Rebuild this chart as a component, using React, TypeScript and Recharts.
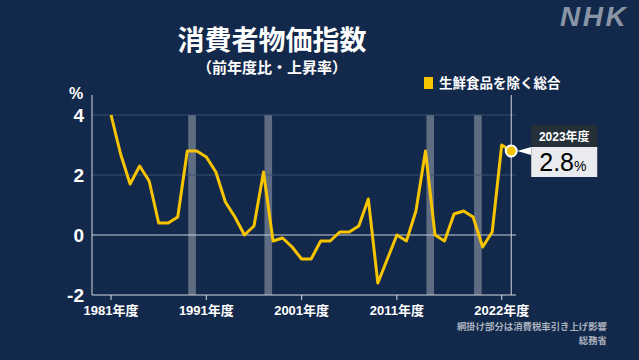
import React from "react";
import {
  LineChart,
  Line,
  XAxis,
  YAxis,
  ReferenceArea,
  ReferenceLine,
  ReferenceDot,
} from "recharts";

// fiscal years and core CPI change (%), excluding fresh food
const years = [
  1981, 1982, 1983, 1984, 1985, 1986, 1987, 1988, 1989, 1990, 1991, 1992, 1993, 1994, 1995,
  1996, 1997, 1998, 1999, 2000, 2001, 2002, 2003, 2004, 2005, 2006, 2007, 2008, 2009, 2010,
  2011, 2012, 2013, 2014, 2015, 2016, 2017, 2018, 2019, 2020, 2021, 2022, 2023,
];
const values = [
  4.0, 2.7, 1.7, 2.3, 1.8, 0.4, 0.4, 0.6, 2.8, 2.8, 2.6, 2.1, 1.1, 0.6, 0.0,
  0.3, 2.1, -0.2, -0.1, -0.4, -0.8, -0.8, -0.2, -0.2, 0.1, 0.1, 0.3, 1.2, -1.6, -0.8,
  0.0, -0.2, 0.8, 2.8, 0.0, -0.2, 0.7, 0.8, 0.6, -0.4, 0.1, 3.0, 2.8,
];
const taxYears = [1989, 1997, 2014, 2019];
const xTicks = [1981, 1991, 2001, 2011, 2022];
const yTicks = [-2, 0, 2, 4];

const data = years.map((year, i) => ({ year, v: values[i] }));

const BG = "#13294b";
const YELLOW = "#f7c400";
const FONT = "'Noto Sans CJK JP', 'Noto Sans', sans-serif";
const NUM_FONT = "'Liberation Sans', 'Noto Sans CJK JP', sans-serif";

const LastPoint = (props: any) => {
  const { cx, cy } = props;
  const bx = cx + 20;
  return (
    <g>
      <circle cx={cx} cy={cy} r={5.5} fill={YELLOW} stroke="#ffffff" strokeWidth={2} />
      <polygon points={`${cx + 6},${cy} ${bx},${cy - 4} ${bx},${cy + 4}`} fill="#ffffff" />
      <rect x={bx} y={cy - 26} width={66} height={52} fill="#1b2530" />
      <rect x={bx} y={cy - 26} width={66} height={22} fill="#253038" />
      <rect x={bx} y={cy - 4} width={66} height={30} fill="#e9ebef" />
      <text
        x={bx + 33}
        y={cy - 10}
        textAnchor="middle"
        fill="#ffffff"
        fontSize={12}
        fontWeight={700}
        fontFamily={NUM_FONT}
      >
        2023年度
      </text>
      <text x={bx + 8} y={cy + 20} fill="#000000" fontFamily={NUM_FONT}>
        <tspan fontSize={25}>2.8</tspan>
        <tspan fontSize={14}>%</tspan>
      </text>
    </g>
  );
};

export default function App() {
  return (
    <div
      style={{
        position: "relative",
        width: 639,
        height: 360,
        background: BG,
        fontFamily: FONT,
        overflow: "hidden",
      }}
    >
      <style>{"body{margin:0}"}</style>
      <div
        style={{
          position: "absolute",
          left: 560,
          top: 1,
          color: "#8a95a6",
          fontFamily: "'Liberation Sans', Arial, sans-serif",
          fontWeight: 700,
          fontStyle: "italic",
          fontSize: 28,
          letterSpacing: 2.5,
          lineHeight: "32px",
        }}
      >
        NHK
      </div>
      <div
        style={{
          position: "absolute",
          left: 72,
          width: 400,
          top: 24,
          textAlign: "center",
          color: "#ffffff",
          fontWeight: 700,
          fontSize: 27,
          lineHeight: "30px",
        }}
      >
        消費者物価指数
      </div>
      <div
        style={{
          position: "absolute",
          left: 72,
          width: 400,
          top: 58,
          textAlign: "center",
          color: "#ffffff",
          fontWeight: 700,
          fontSize: 15,
          lineHeight: "18px",
        }}
      >
        （前年度比・上昇率）
      </div>
      <div
        style={{
          position: "absolute",
          left: 424,
          top: 77,
          width: 9,
          height: 12,
          background: YELLOW,
        }}
      />
      <div
        style={{
          position: "absolute",
          left: 439,
          top: 74,
          color: "#ffffff",
          fontWeight: 700,
          fontSize: 13.5,
          lineHeight: "17px",
        }}
      >
        生鮮食品を除く総合
      </div>
      <div
        style={{
          position: "absolute",
          left: 69,
          top: 86,
          color: "#ffffff",
          fontFamily: NUM_FONT,
          fontWeight: 700,
          fontSize: 16,
          lineHeight: "16px",
        }}
      >
        %
      </div>
      <div
        style={{
          position: "absolute",
          right: 32,
          top: 321,
          textAlign: "right",
          color: "#aab2be",
          fontWeight: 700,
          fontSize: 9.4,
          lineHeight: "11px",
        }}
      >
        網掛け部分は消費税率引き上げ影響
      </div>
      <div
        style={{
          position: "absolute",
          right: 32,
          top: 334.5,
          textAlign: "right",
          color: "#aab2be",
          fontWeight: 700,
          fontSize: 9.4,
          lineHeight: "11px",
        }}
      >
        総務省
      </div>
      <div style={{ position: "absolute", left: 0, top: 0 }}>
        <LineChart
          width={639}
          height={360}
          data={data}
          margin={{ top: 95, right: 123, bottom: 35, left: 0 }}
        >
          <XAxis
            dataKey="year"
            type="number"
            domain={[1979, 2023.5]}
            ticks={xTicks}
            tickFormatter={(v) => `${v}年度`}
            stroke="#d4d8de"
            tickSize={5}
            tickMargin={6}
            height={30}
            tick={{ fill: "#ffffff", fontSize: 13, fontWeight: 700, fontFamily: NUM_FONT }}
          />
          <YAxis
            type="number"
            domain={[-2, 4.667]}
            ticks={yTicks}
            width={92}
            stroke="#d4d8de"
            tickLine={false}
            tickSize={0}
            tickMargin={8}
            tick={{ fill: "#ffffff", fontSize: 19, fontWeight: 700, fontFamily: NUM_FONT }}
          />
          <ReferenceLine y={4} stroke="#3b5070" strokeWidth={1} />
          <ReferenceLine y={2} stroke="#3b5070" strokeWidth={1} />
          {taxYears.map((y) => (
            <ReferenceArea
              key={y}
              x1={y + 0.1}
              x2={y + 0.9}
              y1={-2}
              y2={4}
              fill="#5f6d82"
              fillOpacity={1}
              stroke="none"
            />
          ))}
          <ReferenceLine y={0} stroke="#c9ced6" strokeWidth={1.2} />
          <ReferenceLine x={2023} stroke="#d4d8de" strokeWidth={1} />
          <Line
            dataKey="v"
            type="linear"
            stroke={YELLOW}
            strokeWidth={3}
            strokeLinejoin="round"
            dot={false}
            activeDot={false}
            isAnimationActive={false}
          />
          <ReferenceDot x={2023} y={2.8} r={5.5} shape={LastPoint} />
        </LineChart>
      </div>
    </div>
  );
}
